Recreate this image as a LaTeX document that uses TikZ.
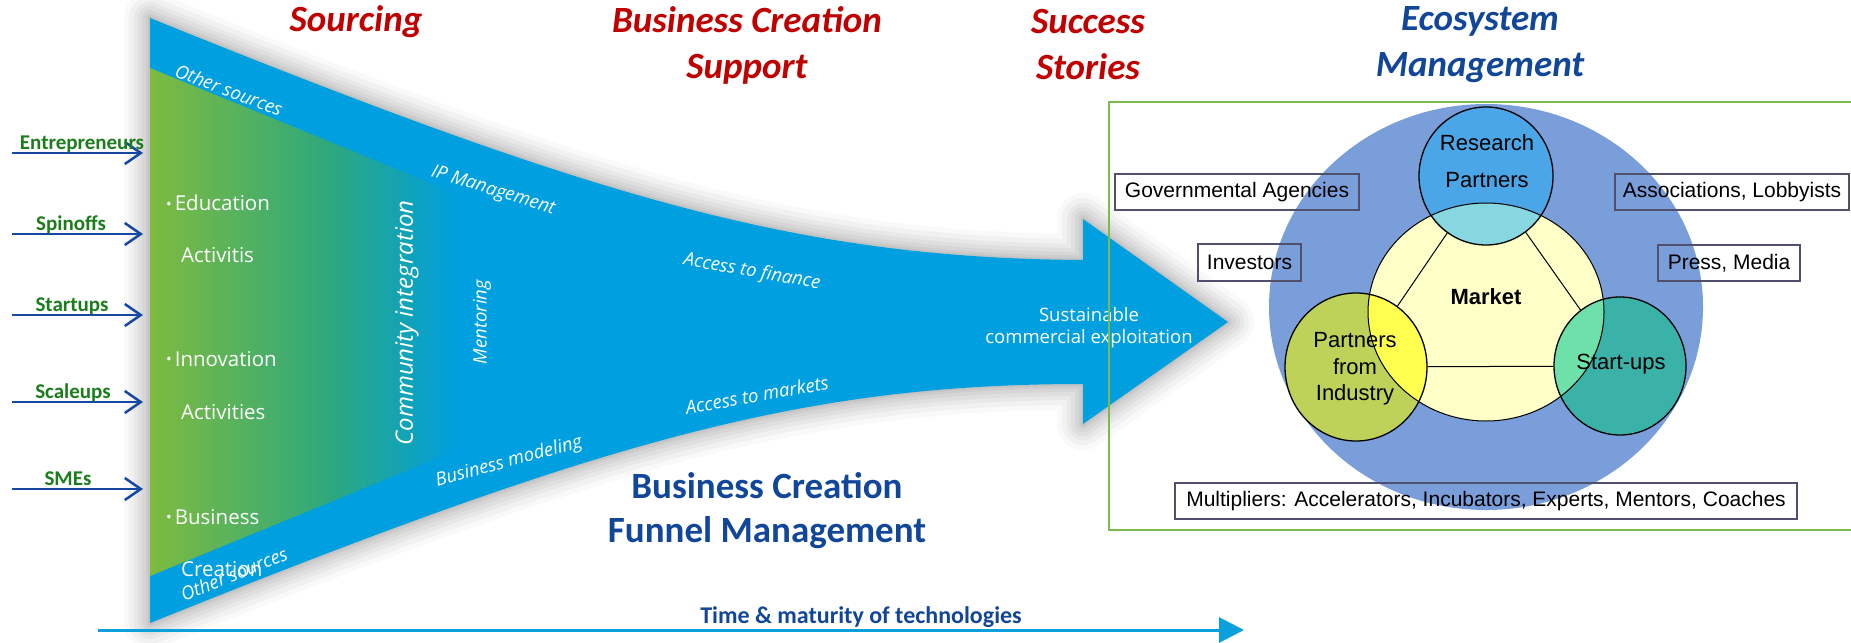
\documentclass[tikz,border=0pt]{standalone}
\usepackage{fontspec}
\setmainfont{Open Sans}
\newfontfamily\cali{Carlito}
\newfontfamily\ari{Liberation Sans}
\usetikzlibrary{arrows.meta,shapes.geometric}
\definecolor{fblue}{RGB}{0,159,223}
\definecolor{fgreen}{RGB}{126,187,64}
\definecolor{fteal}{RGB}{45,168,125}
\definecolor{tred}{RGB}{192,0,0}
\definecolor{tblue}{RGB}{18,70,152}
\definecolor{lgreen}{RGB}{28,125,28}
\definecolor{arblue}{RGB}{22,72,162}
\definecolor{timeblue}{RGB}{10,160,222}
\definecolor{framegreen}{RGB}{124,187,74}
\definecolor{bigblue}{RGB}{122,158,218}
\definecolor{mktyellow}{RGB}{255,255,200}
\definecolor{rpblue}{RGB}{74,166,230}
\definecolor{rpov}{RGB}{135,215,225}
\definecolor{pigreen}{RGB}{190,210,90}
\definecolor{piov}{RGB}{255,255,80}
\definecolor{suteal}{RGB}{58,178,168}
\definecolor{suov}{RGB}{110,225,170}
\definecolor{boxgray}{RGB}{80,80,110}
\begin{document}
\begin{tikzpicture}[x=1pt,y=-1pt,
  funnel/.style={insert path={(150,18) .. controls (600,200) and (800,258) .. (1083,260) -- (1083,219) -- (1228,322) -- (1083,424) -- (1083,384) .. controls (800,384) and (600,442) .. (150,623) -- cycle}},
  funtxt/.style={text=white, inner sep=0, font=\itshape\fontsize{18.5}{22}\selectfont},
  bullettxt/.style={text=white, inner sep=0, anchor=west, font=\fontsize{20.5}{24}\selectfont},
  title/.style={align=center, inner sep=0, font=\cali\bfseries\itshape\fontsize{37}{46}\selectfont},
  srclabel/.style={text=lgreen, inner sep=0, anchor=base, font=\cali\bfseries\fontsize{21}{24}\selectfont},
  srcarrow/.style={draw=arblue, line width=2.5pt, -{Straight Barb[length=16pt,width=22pt,line width=2.5pt]}},
  ebox/.style={draw=boxgray, line width=1.3pt, inner sep=0, font=\ari\fontsize{21}{24}\selectfont},
  circ/.style={ellipse, draw=black, line width=1.3pt, inner sep=0},
  ctxt/.style={inner sep=0, align=center, font=\ari\fontsize{22}{26.5}\selectfont}
]
\useasboundingbox (0,0) rectangle (1851,642);

% funnel shadow
\foreach \w/\o in {52/0.025, 42/0.03, 32/0.035, 24/0.04, 16/0.04, 9/0.045, 4/0.05}
  \draw[line width=\w pt, black, opacity=\o, line join=round, funnel];
% funnel
\fill[fblue, funnel];
\shade[left color=fgreen, right color=fteal] (150,68) -- (331,142.2) -- (331,501.8) -- (150,576) -- cycle;
\shade[left color=fteal, right color=fblue] (330,141.8) -- (456,193.5) -- (456,450.5) -- (330,502.2) -- cycle;

% funnel texts
\node[funtxt, rotate=-21] (os1) at (229,90) {Other sources};
\node[funtxt, rotate=-17] (ipm) at (493,191) {IP Management};
\node[funtxt, rotate=-10] (acf) at (752,272) {Access to finance};
\node[funtxt, rotate=10] (acm) at (757,395) {Access to markets};
\node[funtxt, rotate=15] (bmo) at (509,462) {Business modeling};
\node[funtxt, rotate=90] (men) at (482,322) {Mentoring};
\node[funtxt, rotate=90, font=\itshape\fontsize{24}{28}\selectfont] (com) at (407,323) {Community integration};
\node[bullettxt] (ed1) at (166,203) {\raisebox{1.5pt}{\fontsize{15}{15}\selectfont\textbullet}\hspace{3pt}Education};
\node[bullettxt] (ed2) at (181,255) {Activitis};
\node[bullettxt] (in1) at (166,359) {\raisebox{1.5pt}{\fontsize{15}{15}\selectfont\textbullet}\hspace{3pt}Innovation};
\node[bullettxt] (in2) at (181,412) {Activities};
\node[bullettxt] (bu1) at (166,517) {\raisebox{1.5pt}{\fontsize{15}{15}\selectfont\textbullet}\hspace{3pt}Business};
\node[bullettxt] (bu2) at (181,569) {Creation};
\node[funtxt, rotate=22] (os2) at (234,574) {Other sources};
\node[text=white, inner sep=0, align=center, font=\fontsize{18.5}{22}\selectfont] (sce) at (1089,328) {Sustainable\\commercial exploitation};

% titles
\node[title, text=tred] (t1) at (356,22) {Sourcing};
\node[title, text=tred] (t2) at (747,45) {Business Creation\\Support};
\node[title, text=tred] (t3) at (1088,45) {Success\\Stories};
\node[title, text=tblue] (t4) at (1480,45) {Ecosystem\\Management};
\node[align=center, inner sep=0, text=tblue, font=\cali\bfseries\fontsize{37}{44}\selectfont] (bcf) at (767,511) {Business Creation\\Funnel Management};

% source arrows
\foreach \n/\lab/\lx/\y in {e/Entrepreneurs/82/153, s/Spinoffs/71/234, st/Startups/72/315, sc/Scaleups/73/402, sm/SMEs/68/489} {
  \coordinate (a\n) at (12,\y);
  \coordinate (b\n) at (143,\y);
  \draw[srcarrow] (a\n) -- (b\n);
  \node[srclabel] (l\n) at (\lx,\y-4) {\lab};
}

% time axis
\coordinate (ta) at (98,630);
\coordinate (tb) at (1244,630);
\draw[timeblue, line width=3pt, -{Triangle[length=25pt,width=25pt]}] (ta) -- (tb);
\node[inner sep=0, text=tblue, font=\cali\bfseries\fontsize{24}{28}\selectfont] (tm) at (861,617) {Time \& maturity of technologies};

% ecosystem
\draw[framegreen, line width=1.6pt] (1109,102) rectangle (1870,530);
\fill[bigblue] (1486,307) ellipse [x radius=217, y radius=203];
\fill[mktyellow] (1486,312) ellipse [x radius=118, y radius=109];
\fill[rpblue] (1486,176) ellipse [x radius=67, y radius=69];
\fill[pigreen] (1356,367) ellipse [x radius=71, y radius=74];
\fill[suteal] (1620,366) ellipse [x radius=66, y radius=69];
\begin{scope}
  \clip (1486,312) ellipse [x radius=118, y radius=109];
  \fill[rpov] (1486,176) ellipse [x radius=67, y radius=69];
  \fill[piov] (1356,367) ellipse [x radius=71, y radius=74];
  \fill[suov] (1620,366) ellipse [x radius=66, y radius=69];
\end{scope}
\node[circ, minimum width=236pt, minimum height=218pt, line width=1pt] (mkc) at (1486,312) {};
\node[circ, minimum width=134pt, minimum height=138pt] (rp) at (1486,176) {};
\node[circ, minimum width=142pt, minimum height=148pt] (pi) at (1356,367) {};
\node[circ, minimum width=132pt, minimum height=138pt] (su) at (1620,366) {};
\draw[black, line width=1pt] (rp) -- (pi);
\draw[black, line width=1pt] (rp) -- (su);
\draw[black, line width=1pt] (pi) -- (su);
\node[ctxt, font=\ari\fontsize{22}{37}\selectfont] (rpt) at (1487,161) {Research\\Partners};
\node[ctxt] (pit) at (1355,369) {Partners\\from\\Industry};
\node[ctxt] (sut) at (1621,364) {Start-ups};
\node[ctxt, font=\ari\bfseries\fontsize{22}{26}\selectfont] (mkt) at (1486,297) {Market};

\node[ebox, minimum width=244pt, minimum height=36pt] (gov) at (1237,192) {Governmental Agencies};
\node[ebox, minimum width=103pt, minimum height=37pt] (inv) at (1249.5,262.5) {Investors};
\node[ebox, minimum width=234pt, minimum height=36pt] (ass) at (1732,192) {Associations, Lobbyists};
\node[ebox, minimum width=142pt, minimum height=36pt] (prs) at (1729,263) {Press, Media};
\node[ebox, minimum width=622pt, minimum height=36pt] (mul) at (1486,501) {Multipliers: Accelerators, Incubators, Experts, Mentors, Coaches};
\end{tikzpicture}
\end{document}
